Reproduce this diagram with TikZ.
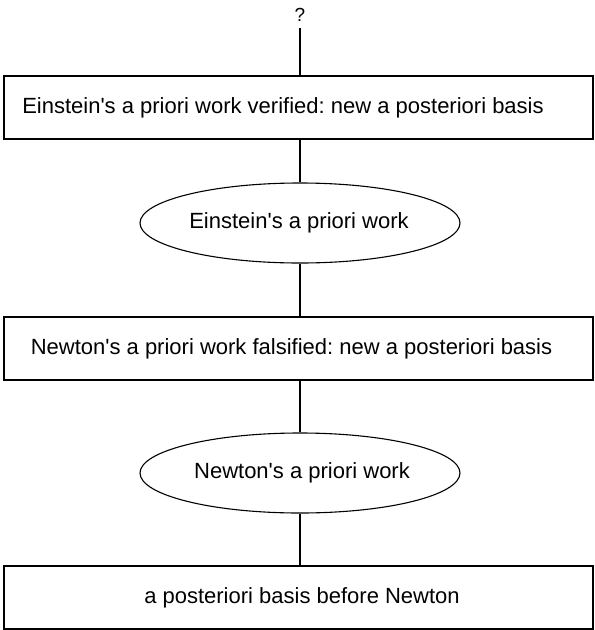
\documentclass[tikz,border=0pt]{standalone}
\usepackage{fontspec}
\setmainfont{Liberation Sans}[Ligatures=TeXOff]
\usetikzlibrary{shapes.geometric}
\frenchspacing
\begin{document}
\begin{tikzpicture}[x=1pt,y=-1pt,
  boxnode/.style={draw=black,line width=1.2pt,rectangle,minimum width=589pt,minimum height=63pt,inner sep=0pt},
  ellnode/.style={draw=black,line width=1.1pt,ellipse,minimum width=320pt,minimum height=80pt,inner sep=0pt},
  txt/.style={inner sep=0pt,font=\fontsize{22}{26}\selectfont},
  conn/.style={draw=black,line width=1.1pt}]
\useasboundingbox[fill=white] (0,0) rectangle (595,630);
\node[txt,font=\fontsize{19}{22}\selectfont] (q) at (300,15) {?};
\coordinate (qend) at (300,28);
\node[boxnode] (b1) at (298.5,107.5) {};
\node[txt] (t1) at (283,107.5) {Einstein's a priori work verified: new a posteriori basis};
\node[ellnode] (e1) at (300,223) {};
\node[txt] (t2) at (299,223) {Einstein's a priori work};
\node[boxnode] (b2) at (298.5,348.5) {};
\node[txt] (t3) at (291.5,348.5) {Newton's a priori work falsified: new a posteriori basis};
\node[ellnode] (e2) at (300,473) {};
\node[txt] (t4) at (302,473) {Newton's a priori work};
\node[boxnode] (b3) at (298.5,597.5) {};
\node[txt] (t5) at (302,597.5) {a posteriori basis before Newton};
\draw[conn] (qend) -- (qend |- b1.north);
\draw[conn] (e1.north |- b1.south) -- (e1.north);
\draw[conn] (e1.south) -- (e1.south |- b2.north);
\draw[conn] (e2.north |- b2.south) -- (e2.north);
\draw[conn] (e2.south) -- (e2.south |- b3.north);
\end{tikzpicture}
\end{document}
